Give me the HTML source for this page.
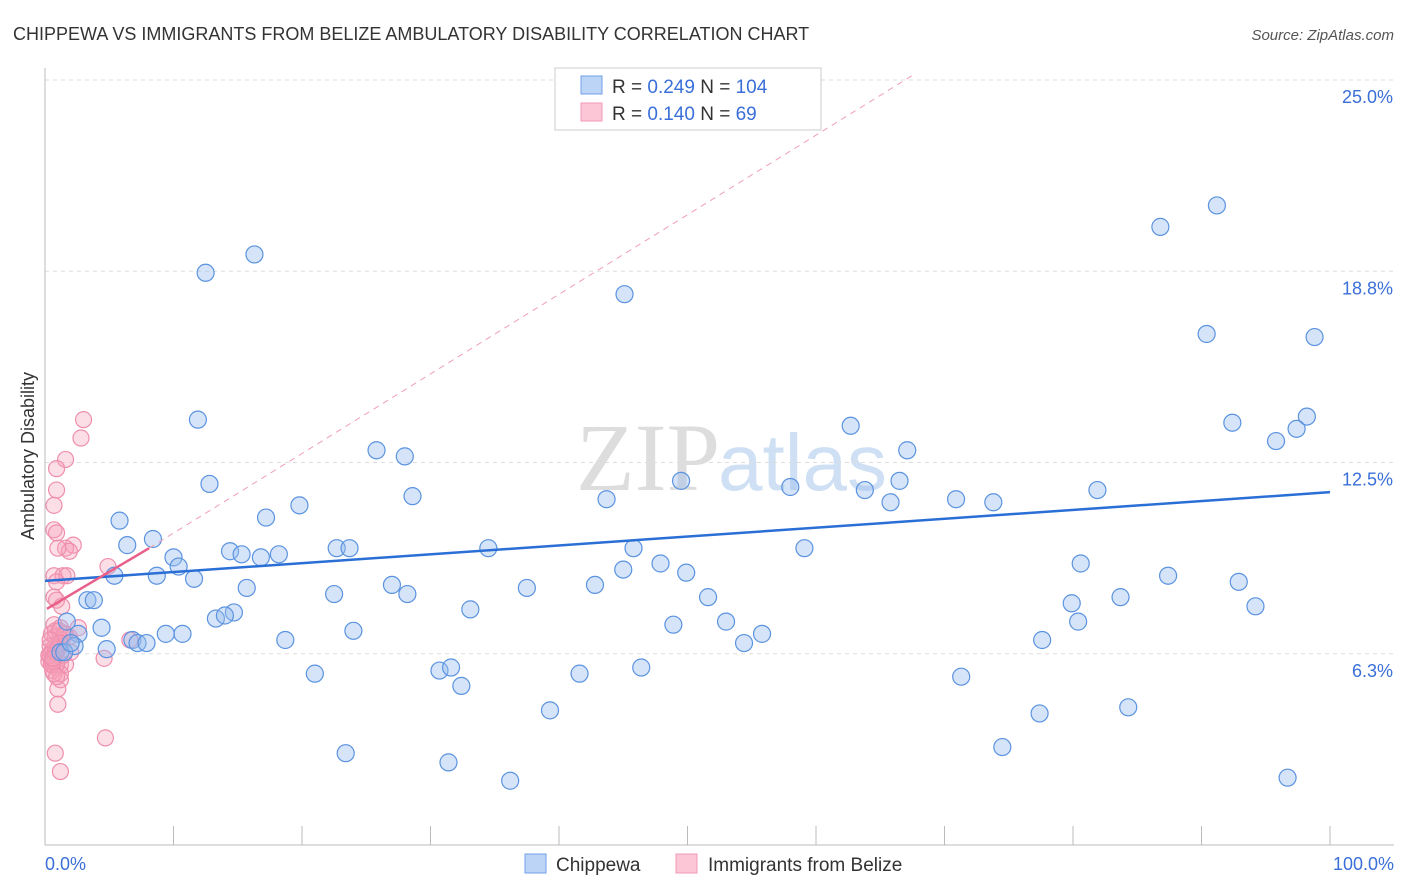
<!DOCTYPE html>
<html><head><meta charset="utf-8"><style>
body{margin:0;background:#fff;font-family:"Liberation Sans",sans-serif}
svg{display:block}
</style></head><body>
<svg id="c" width="1406" height="892">
<text x="13" y="40" font-size="18" fill="#333">CHIPPEWA VS IMMIGRANTS FROM BELIZE AMBULATORY DISABILITY CORRELATION CHART</text>
<text x="1394" y="40" font-size="15" fill="#555" font-style="italic" text-anchor="end">Source: ZipAtlas.com</text>
<text x="720" y="490" font-size="96" fill="#ddd" font-family="Liberation Serif" text-anchor="end">ZIP</text>
<text x="718" y="490" font-size="80" fill="#cfe0f5">atlas</text>
<g id="grid"></g><g id="pts"></g><g id="lines"></g>
<text transform="translate(34,456) rotate(-90)" font-size="18" fill="#333" text-anchor="middle">Ambulatory Disability</text>
<text x="45" y="870" font-size="18" fill="#3a6fd8">0.0%</text>
<text x="1394" y="870" font-size="18" fill="#3a6fd8" text-anchor="end">100.0%</text>
<g>
<rect x="555" y="68" width="266" height="62" fill="#fff" stroke="#ccc"/>
<rect x="581" y="76" width="21" height="18" fill="#bcd4f5" stroke="#6fa0e8"/>
<rect x="581" y="103" width="21" height="18" fill="#fcc6d6" stroke="#f09ab4"/>
<text x="612" y="93" font-size="19" fill="#333">R = <tspan fill="#3a6fd8">0.249</tspan>   N = <tspan fill="#3a6fd8">104</tspan></text>
<text x="612" y="120" font-size="19" fill="#333">R = <tspan fill="#3a6fd8">0.140</tspan>   N = <tspan fill="#3a6fd8"> 69</tspan></text>
</g>
<g>
<rect x="525" y="854" width="21" height="19" fill="#bcd4f5" stroke="#6fa0e8"/>
<text x="556" y="871" font-size="19" fill="#333">Chippewa</text>
<rect x="676" y="854" width="21" height="19" fill="#fcc6d6" stroke="#f09ab4"/>
<text x="708" y="871" font-size="19" fill="#333">Immigrants from Belize</text>
</g>
</svg>
<script>
const yTicks=[6.25,12.5,18.75,25];
const yTickLabels=["6.3%","12.5%","18.8%","25.0%"];
const blueX=[16.3,12.5,45.1,91.2,86.8,90.4,98.8,11.9,62.7,92.4,98.2,97.4,95.8,25.8,28.0,67.1,12.8,49.5,66.5,28.6,58.0,63.8,81.9,43.7,65.8,70.9,73.8,19.8,17.2,5.8,8.4,6.4,14.4,15.3,16.8,18.2,22.7,23.7,34.5,45.8,59.1,10.0,10.4,8.7,5.4,11.6,27.0,22.5,28.2,15.7,37.5,42.8,45.0,47.9,49.9,51.6,80.6,87.4,92.9,83.7,79.9,94.2,3.3,3.8,33.1,14.7,13.3,14.0,1.7,4.4,48.9,53.0,80.4,24.0,18.7,55.8,77.6,9.4,10.7,6.8,7.2,7.9,2.6,2.3,4.8,1.2,54.4,30.7,31.6,46.4,21.0,41.6,32.4,71.3,39.3,77.4,84.3,23.4,74.5,31.4,36.2,96.7,1.5,2.0];
const blueY=[19.3,18.7,18.0,20.9,20.2,16.7,16.6,13.9,13.7,13.8,14.0,13.6,13.2,12.9,12.7,12.9,11.8,11.9,11.9,11.4,11.7,11.6,11.6,11.3,11.2,11.3,11.2,11.1,10.7,10.6,10.0,9.8,9.6,9.5,9.4,9.5,9.7,9.7,9.7,9.7,9.7,9.4,9.1,8.8,8.8,8.7,8.5,8.2,8.2,8.4,8.4,8.5,9.0,9.2,8.9,8.1,9.2,8.8,8.6,8.1,7.9,7.8,8.0,8.0,7.7,7.6,7.4,7.5,7.3,7.1,7.2,7.3,7.3,7.0,6.7,6.9,6.7,6.9,6.9,6.7,6.6,6.6,6.9,6.5,6.4,6.3,6.6,5.7,5.8,5.8,5.6,5.6,5.2,5.5,4.4,4.3,4.5,3.0,3.2,2.7,2.1,2.2,6.3,6.6];
const pinkX=[3.0,2.8,1.6,0.9,0.9,0.7,0.7,0.9,2.2,1.6,1.9,1.0,4.9,0.7,1.4,1.7,0.9,0.7,0.9,1.3,0.7,1.2,1.6,2.6,0.8,6.6,1.3,1.9,0.8,0.5,0.9,0.7,0.5,1.2,1.6,4.6,0.8,1.2,1.2,1.0,1.0,4.7,0.8,1.2,0.4,0.6,1.1,1.4,0.3,0.6,0.9,1.3,0.5,0.8,1.0,0.4,0.7,1.5,2.0,0.6,0.9,0.3,1.1,0.5,0.8,1.2,0.6,0.4,0.9];
const pinkY=[13.9,13.3,12.6,12.3,11.6,11.1,10.3,10.2,9.8,9.7,9.6,9.7,9.1,8.8,8.8,8.8,8.6,8.1,8.0,7.8,7.2,7.1,6.9,7.1,6.8,6.7,6.6,6.8,6.5,6.3,6.3,6.1,6.0,5.9,5.9,6.1,5.8,5.6,5.4,5.1,4.6,3.5,3.0,2.4,6.2,6.4,6.6,6.2,6.0,5.7,5.9,6.7,6.9,7.0,6.4,6.5,5.6,6.9,6.3,6.0,6.4,6.2,7.0,5.9,6.3,6.6,6.1,6.7,5.5];
const blueTrend=[8.63,11.53];
const pinkSolid=[0.15,8.1,7.72,9.7];
const pinkDash=[8.1,67.7,9.7,25.2];
const X0=45,X1=1330,YB=845,PY=30.6;
const sx=v=>X0+v*(X1-X0)/100, sy=v=>YB-v*PY;
const NS="http://www.w3.org/2000/svg";
function mk(p,t,a){const e=document.createElementNS(NS,t);for(const k in a)e.setAttribute(k,a[k]);p.appendChild(e);return e;}
const g=document.getElementById('grid');
yTicks.forEach((t,i)=>{
 const l=mk(g,'line',{x1:X0,x2:1394,y1:sy(t),y2:sy(t),stroke:'#ddd','stroke-dasharray':'4,4'});
 
 
 const tx=mk(g,'text',{x:1393,y:sy(t)+23,'font-size':18,fill:'#3a6fd8','text-anchor':'end'});
 tx.textContent=yTickLabels[i];
 
 
});
const ax=mk(g,'line',{x1:X0,x2:X0,y1:68,y2:YB,stroke:'#bbb'});


const bx=mk(g,'line',{x1:X0,x2:1394,y1:YB,y2:YB,stroke:'#bbb'});


for(let i=0;i<=10;i++){const t=mk(g,'line',{x1:sx(i*10),x2:sx(i*10),y1:826,y2:YB,stroke:'#bbb'});
 
 }
const P=document.getElementById('pts');
pinkX.forEach((x,i)=>{const c=mk(P,'circle',{cx:sx(x),cy:sy(pinkY[i]),r:8,fill:'rgba(246,160,186,0.35)',stroke:'#ee8fad','stroke-width':1.2});
 
 });
blueX.forEach((x,i)=>{const c=mk(P,'circle',{cx:sx(x),cy:sy(blueY[i]),r:8.5,fill:'rgba(150,188,238,0.4)',stroke:'#5b93e0','stroke-width':1.2});
 
 });
const L=document.getElementById('lines');
const b=mk(L,'line',{x1:sx(0),y1:sy(blueTrend[0]),x2:sx(100),y2:sy(blueTrend[1]),stroke:'#2a6fd6','stroke-width':2.5});


const p=mk(L,'line',{x1:sx(pinkSolid[0]),y1:sy(pinkSolid[2]),x2:sx(pinkSolid[1]),y2:sy(pinkSolid[3]),stroke:'#e8608a','stroke-width':2.5});


const d=mk(L,'line',{x1:sx(pinkDash[0]),y1:sy(pinkDash[2]),x2:sx(pinkDash[1]),y2:sy(pinkDash[3]),stroke:'#f0a0b8','stroke-width':1,'stroke-dasharray':'6,5'});


</script>
</body></html>
